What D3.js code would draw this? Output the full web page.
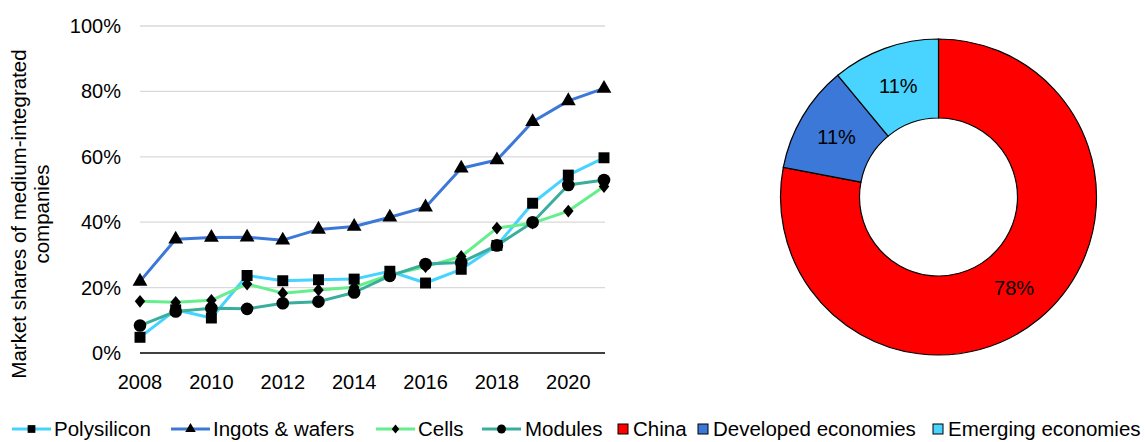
<!DOCTYPE html>
<html><head><meta charset="utf-8">
<script src="https://cdn.jsdelivr.net/npm/d3@7"></script>
<style>
body{margin:0;background:#fff;}
text{font-family:"Liberation Sans",Arial,sans-serif;fill:#000;}
</style></head>
<body><svg id="c" width="1145" height="442"></svg>
<script>
const years = [2008,2009,2010,2011,2012,2013,2014,2015,2016,2017,2018,2019,2020,2021];
const polysilicon = [4.8,13.2,10.7,23.7,22.1,22.4,22.6,25.0,21.4,25.6,32.9,45.8,54.4,59.7];
const ingots = [21.9,34.8,35.3,35.4,34.5,37.8,38.7,41.5,44.6,56.5,59.0,70.7,77.1,80.9];
const cells = [15.8,15.5,16.1,21.1,18.3,19.3,20.1,23.9,26.4,29.5,38.2,39.7,43.4,50.9];
const modules = [8.4,12.7,13.7,13.5,15.2,15.7,18.5,23.6,27.2,27.7,32.9,40.0,51.4,52.9];
const seriesNames = ["Polysilicon","Ingots & wafers","Cells","Modules"];
const seriesColors = ["#47d3ff","#3c78d8","#66ee8c","#3aae9c"];
const seriesSymbols = [d3.symbolSquare, d3.symbolTriangle, d3.symbolSquare, d3.symbolCircle];
const yTicks = [0,20,40,60,80,100];
const xTicks = [2008,2010,2012,2014,2016,2018,2020];
const regions = ["China","Developed economies","Emerging economies"];
const regionShares = [78,11,11];
const regionColors = ["#ff0000","#3c78d8","#48d4ff"];

const svg = d3.select("#c");
const x = d3.scaleLinear().domain([2008,2021]).range([140,604]);
const y = d3.scaleLinear().domain([0,100]).range([353,26]);

svg.append("g").selectAll("line").data(yTicks.filter(d=>d>0)).join("line")
  .attr("x1",x(2008)).attr("x2",x(2021)+1).attr("y1",d=>y(d)).attr("y2",d=>y(d))
  .attr("stroke","#d9d9d9").attr("stroke-width",1.3);
svg.append("line").attr("x1",x(2008)).attr("x2",x(2021)+1).attr("y1",y(0)).attr("y2",y(0))
  .attr("stroke","#000").attr("stroke-width",1.6);
svg.append("g").selectAll("text").data(yTicks).join("text")
  .attr("x",121).attr("y",d=>y(d)).attr("dy","0.35em").attr("text-anchor","end")
  .attr("font-size",20).text(d=>d+"%");
svg.append("g").selectAll("text").data(xTicks).join("text")
  .attr("x",d=>x(d)).attr("y",389).attr("text-anchor","middle")
  .attr("font-size",20).text(d=>d);
const yt = svg.append("text").attr("transform","translate(31,214) rotate(-90)")
  .attr("text-anchor","middle").attr("font-size",20.5);
yt.append("tspan").attr("x",0).attr("dy","-0.25em").text("Market shares of medium-integrated");
yt.append("tspan").attr("x",0).attr("dy","1.15em").text("companies");

const allSeries = [polysilicon, ingots, cells, modules];
const line = d3.line().x((d,i)=>x(years[i])).y(d=>y(d));
const markerSizes = [120,95,68,125];
allSeries.forEach((s,k)=>{
  svg.append("path").datum(s).attr("d",line).attr("fill","none")
    .attr("stroke",seriesColors[k]).attr("stroke-width",3).attr("stroke-linejoin","round");
});
allSeries.forEach((s,k)=>{
  const sym = d3.symbol().type(seriesSymbols[k]).size(markerSizes[k]);
  svg.append("g").selectAll("path").data(s).join("path")
    .attr("d",sym).attr("fill","#000")
    .attr("transform",(d,i)=>`translate(${x(years[i])},${y(d)})${k===2?" scale(0.9,1.1) rotate(45)":""}`);
});

const legX = [12,171,376,482];
const legTextX = [54,213,418,525];
const ly = 429;
seriesNames.forEach((n,k)=>{
  svg.append("line").attr("x1",legX[k]).attr("x2",legX[k]+39).attr("y1",ly).attr("y2",ly)
    .attr("stroke",seriesColors[k]).attr("stroke-width",3);
  const sym = d3.symbol().type(seriesSymbols[k]).size(markerSizes[k]*0.5);
  svg.append("path").attr("d",sym).attr("fill","#000")
    .attr("transform",`translate(${legX[k]+19.5},${ly})${k===2?" scale(0.9,1.1) rotate(45)":""}`);
  svg.append("text").attr("x",legTextX[k]).attr("y",ly).attr("dy","0.35em")
    .attr("font-size",20.5).text(n);
});
const rSqX = [618,698,933];
regions.forEach((n,k)=>{
  svg.append("rect").attr("x",rSqX[k]).attr("y",ly-5).attr("width",10).attr("height",10)
    .attr("fill",regionColors[k]).attr("stroke","#000").attr("stroke-width",1);
  svg.append("text").attr("x",rSqX[k]+15).attr("y",ly).attr("dy","0.35em")
    .attr("font-size",20.5).text(n);
});

const pie = d3.pie().sort(null).value(d=>d)(regionShares);
const arc = d3.arc().innerRadius(79).outerRadius(158);
const g = svg.append("g").attr("transform","translate(938.5,197)");
g.selectAll("path").data(pie).join("path").attr("d",arc)
  .attr("fill",(d,i)=>regionColors[i]).attr("stroke","#000").attr("stroke-width",1.2);
g.selectAll("text").data(pie).join("text")
  .attr("transform",d=>`translate(${arc.centroid(d)})`)
  .attr("text-anchor","middle").attr("dy","0.35em").attr("font-size",20)
  .text(d=>d.data+"%");
</script></body></html>
